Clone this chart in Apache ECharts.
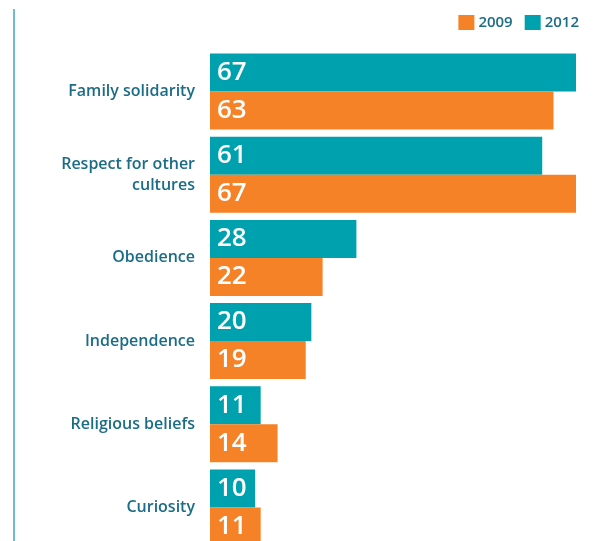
<!DOCTYPE html>
<html>
<head>
<meta charset="utf-8">
<script src="https://cdn.jsdelivr.net/npm/echarts@6/dist/echarts.min.js"></script>
<style>
  html, body { margin: 0; padding: 0; background: #fff; }
  #chart { width: 596px; height: 541px; }
</style>
</head>
<body>
<div id="chart"></div>
<script>
const categories = ['Family solidarity', 'Respect for other\ncultures', 'Obedience', 'Independence', 'Religious beliefs', 'Curiosity']
const values2012 = [67, 61, 28, 20, 11, 10]
const values2009 = [63, 67, 22, 19, 14, 11]

const teal = '#00a1ae'
const orange = '#f58226'
const textColor = '#1b6c86'
const font = '"Open Sans", sans-serif'

const valueLabel = {
  show: true,
  position: 'insideLeft',
  distance: 7,
  color: '#fff',
  fontFamily: font,
  fontSize: 26,
  fontWeight: 600,
}

const chart = echarts.init(document.getElementById('chart'), null, { renderer: 'canvas' })
chart.setOption({
  animation: false,
  legend: {
    data: ['2009', '2012'],
    right: 12,
    top: 10,
    itemWidth: 16,
    itemHeight: 15,
    itemGap: 12,
    itemStyle: { borderWidth: 0 },
    icon: 'rect',
    textStyle: { color: textColor, fontFamily: font, fontSize: 15, fontWeight: 600, padding: [0, 0, 0, -1] },
  },
  grid: { left: 210, right: 20, top: 50, height: 499, outerBoundsMode: 'none' },
  xAxis: {
    type: 'value',
    min: 2,
    max: 67,
    show: false,
  },
  yAxis: {
    type: 'category',
    data: categories,
    inverse: true,
    axisLine: { show: false },
    axisTick: { show: false },
    axisLabel: {
      margin: 15,
      color: textColor,
      fontFamily: font,
      fontSize: 16,
      fontWeight: 600,
      lineHeight: 21,
      align: 'right',
    },
  },
  // left border line
  graphic: [{
    type: 'line',
    shape: { x1: 14, y1: 9, x2: 14, y2: 541 },
    style: { stroke: '#3ea9b6', lineWidth: 1.5 },
  }],
  series: [
    {
      name: '2012',
      type: 'bar',
      data: values2012,
      barWidth: 38,
      barGap: '0%',
      itemStyle: { color: teal },
      label: valueLabel,
    },
    {
      name: '2009',
      type: 'bar',
      data: values2009,
      barWidth: 38,
      barGap: '0%',
      itemStyle: { color: orange },
      label: valueLabel,
    },
  ],
})
</script>
</body>
</html>
